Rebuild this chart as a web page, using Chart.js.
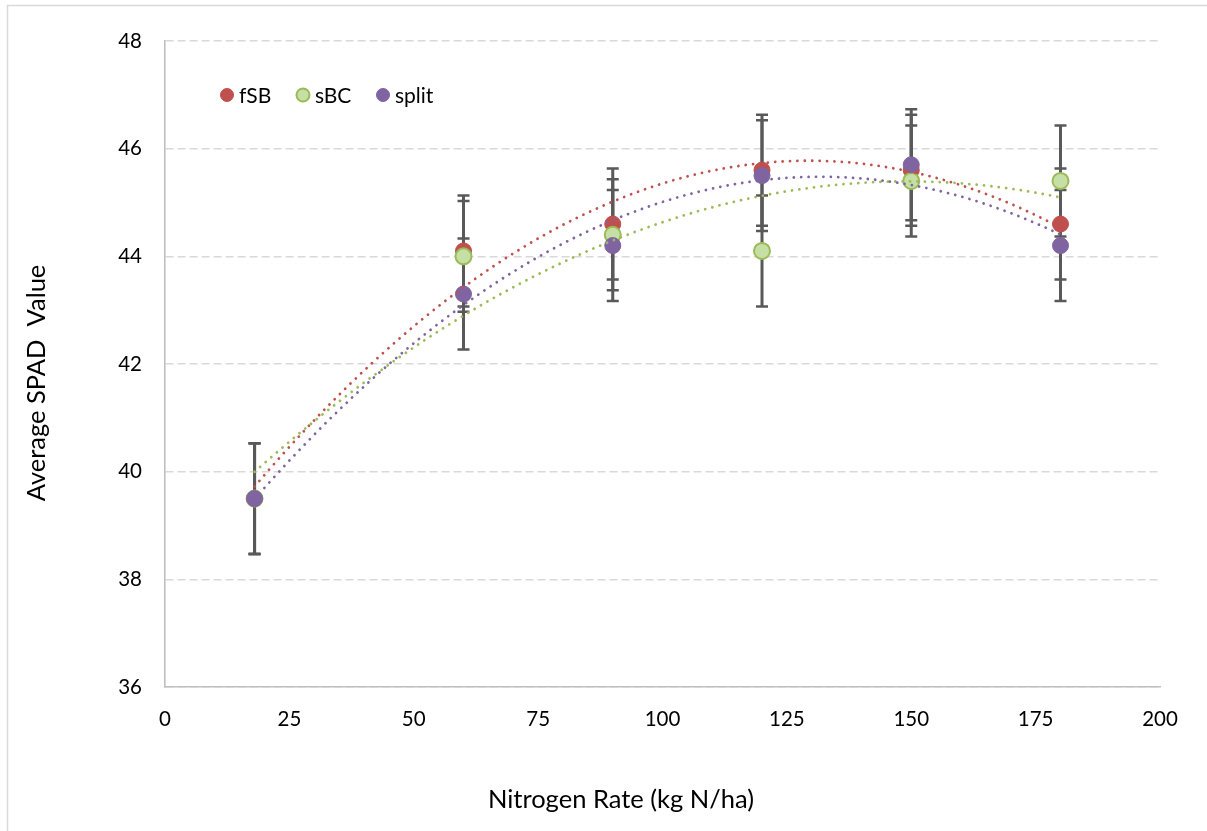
<!DOCTYPE html>
<html>
<head>
<meta charset="utf-8">
<script src="https://cdn.jsdelivr.net/npm/chart.js@4/dist/chart.umd.min.js"></script>
<style>
  html, body { margin: 0; padding: 0; background: #ffffff; }
  #wrap { width: 1207px; height: 831px; position: relative; }
</style>
</head>
<body>
<div id="wrap"><canvas id="c" width="1207" height="831"></canvas></div>
<script>
// ---- data ----
const nitrogenRates = [18, 60, 90, 120, 150, 180];
const fSBValues   = [39.5, 44.1, 44.6, 45.6, 45.6, 44.6];
const sBCValues   = [39.5, 44.0, 44.4, 44.1, 45.4, 45.4];
const splitValues = [39.5, 43.3, 44.2, 45.5, 45.7, 44.2];
const fSBErrors   = [1.03, 1.03, 1.03, 1.03, 1.03, 1.03];
const sBCErrors   = [1.03, 1.03, 1.03, 1.03, 1.03, 1.03];
const splitErrors = [1.03, 1.03, 1.03, 1.03, 1.03, 1.03];
const seriesNames = ['fSB', 'sBC', 'split'];
const xTicks = [0, 25, 50, 75, 100, 125, 150, 175, 200];
const yTicks = [36, 38, 40, 42, 44, 46, 48];
const xTitle = 'Nitrogen Rate (kg N/ha)';
const yTitle = 'Average SPAD  Value';

// ---- 2nd-order polynomial trendline (least squares, like the spreadsheet trendline) ----
function polyfit2(xs, ys) {
  let n = xs.length, sx = 0, sx2 = 0, sx3 = 0, sx4 = 0, sy = 0, sxy = 0, sx2y = 0;
  for (let i = 0; i < n; i++) {
    const x = xs[i], y = ys[i];
    sx += x; sx2 += x * x; sx3 += x * x * x; sx4 += x * x * x * x;
    sy += y; sxy += x * y; sx2y += x * x * y;
  }
  const A = [[n, sx, sx2, sy], [sx, sx2, sx3, sxy], [sx2, sx3, sx4, sx2y]];
  for (let i = 0; i < 3; i++) {
    let p = i;
    for (let r = i + 1; r < 3; r++) if (Math.abs(A[r][i]) > Math.abs(A[p][i])) p = r;
    [A[i], A[p]] = [A[p], A[i]];
    for (let r = 0; r < 3; r++) {
      if (r === i) continue;
      const f = A[r][i] / A[i][i];
      for (let c = i; c < 4; c++) A[r][c] -= f * A[i][c];
    }
  }
  return [A[0][3] / A[0][0], A[1][3] / A[1][1], A[2][3] / A[2][2]];
}
function trendPoints(xs, ys) {
  const [a, b, c] = polyfit2(xs, ys);
  const pts = [];
  const x0 = Math.min(...xs), x1 = Math.max(...xs);
  for (let x = x0; x <= x1 + 1e-9; x += 1) pts.push({ x: x, y: a + b * x + c * x * x });
  return pts;
}
const toPoints = (ys) => nitrogenRates.map((x, i) => ({ x: x, y: ys[i] }));

const colors = {
  fSB:   { line: '#C0504D', fill: '#C0504D', border: '#C0504D' },
  sBC:   { line: '#9BBB59', fill: '#C6DFA4', border: '#9BBB59' },
  split: { line: '#8064A2', fill: '#8064A2', border: '#8064A2' }
};
const FONT = 'Lato, "Open Sans", "DejaVu Sans", sans-serif';

function markerSet(name, ys, errs, order) {
  const c = colors[name];
  return {
    type: 'scatter', label: name, data: toPoints(ys), errors: errs, isMarker: true,
    backgroundColor: c.fill, borderColor: c.border, borderWidth: name === 'sBC' ? 2 : 1,
    pointRadius: 8, pointHoverRadius: 8, order: order
  };
}
function trendSet(name, ys, order) {
  const c = colors[name];
  return {
    type: 'line', label: name + ' trend', data: trendPoints(nitrogenRates, ys),
    borderColor: c.line, borderWidth: 2.8, borderDash: [0.01, 7.4], borderCapStyle: 'round',
    pointRadius: 0, fill: false, tension: 0, order: order
  };
}

const errorBarPlugin = {
  id: 'errorBars',
  beforeDatasetsDraw(chart) {
    const ctx = chart.ctx, xs = chart.scales.x, ys = chart.scales.y;
    ctx.save();
    ctx.strokeStyle = '#595959';
    ctx.lineCap = 'butt';
    chart.data.datasets.forEach((ds) => {
      if (!ds.isMarker) return;
      ds.data.forEach((p, i) => {
        const e = ds.errors[i];
        const px = xs.getPixelForValue(p.x);
        const top = ys.getPixelForValue(p.y + e);
        const bot = ys.getPixelForValue(p.y - e);
        ctx.lineWidth = 3;
        ctx.beginPath(); ctx.moveTo(px, top); ctx.lineTo(px, bot); ctx.stroke();
        ctx.lineWidth = 2.5;
        ctx.beginPath();
        ctx.moveTo(px - 6, top); ctx.lineTo(px + 6, top);
        ctx.moveTo(px - 6, bot); ctx.lineTo(px + 6, bot);
        ctx.stroke();
      });
    });
    ctx.restore();
  }
};

const frameLegendPlugin = {
  id: 'frameLegend',
  beforeDraw(chart) {
    const ctx = chart.ctx;
    ctx.save();
    ctx.fillStyle = '#ffffff';
    ctx.fillRect(0, 0, chart.width, chart.height);
    ctx.strokeStyle = '#D9D9D9';
    ctx.lineWidth = 1.5;
    ctx.strokeRect(7.5, 5.5, chart.width + 50, chart.height + 50);
    ctx.restore();
  },
  afterDraw(chart) {
    const ctx = chart.ctx;
    ctx.save();
    // axis titles
    ctx.fillStyle = '#000000';
    ctx.font = '25.5px ' + FONT;
    ctx.textAlign = 'center';
    ctx.textBaseline = 'middle';
    ctx.fillText(xTitle, 621, 800);
    ctx.save();
    ctx.translate(37, 383);
    ctx.rotate(-Math.PI / 2);
    ctx.fillText(yTitle, 0, 0);
    ctx.restore();
    // legend inside plot area
    const markerX = [227, 303, 383];
    const cy = 95;
    ctx.font = '21px ' + FONT;
    ctx.textBaseline = 'middle';
    ctx.textAlign = 'left';
    const markers = chart.data.datasets.filter(d => d.isMarker);
    seriesNames.forEach((name, i) => {
      const ds = markers.find(d => d.label === name);
      ctx.beginPath();
      ctx.arc(markerX[i], cy, 6.5, 0, Math.PI * 2);
      ctx.fillStyle = ds.backgroundColor;
      ctx.fill();
      ctx.lineWidth = ds.borderWidth;
      ctx.strokeStyle = ds.borderColor;
      ctx.stroke();
      ctx.fillStyle = '#000000';
      ctx.fillText(ds.label, markerX[i] + 12, cy + 1);
    });
    ctx.restore();
  }
};

new Chart(document.getElementById('c'), {
  type: 'scatter',
  data: {
    datasets: [
      trendSet('fSB', fSBValues, 3),
      trendSet('sBC', sBCValues, 2),
      trendSet('split', splitValues, 1),
      markerSet('fSB', fSBValues, fSBErrors, 6),
      markerSet('sBC', sBCValues, sBCErrors, 5),
      markerSet('split', splitValues, splitErrors, 4)
    ]
  },
  options: {
    responsive: false,
    devicePixelRatio: 1,
    animation: false,
    layout: { padding: { left: 18, top: 41, right: 47, bottom: 14 } },
    plugins: { legend: { display: false }, tooltip: { enabled: false } },
    scales: {
      x: {
        type: 'linear', min: 0, max: 200,
        afterBuildTicks(s) { s.ticks = xTicks.map(v => ({ value: v })); },
        afterFit(s) { s.height = 130; },
        grid: { display: false, drawTicks: false },
        border: { display: true, color: '#BFBFBF', width: 1.6 },
        ticks: { color: '#000000', font: { family: FONT, size: 20.5 }, padding: 20, maxRotation: 0 },
        title: { display: false }
      },
      y: {
        type: 'linear', min: 36, max: 48,
        afterBuildTicks(s) { s.ticks = yTicks.map(v => ({ value: v })); },
        afterFit(s) { s.width = 147; },
        grid: { color: '#D9D9D9', lineWidth: 1.6, drawTicks: false },
        border: { display: true, color: '#BFBFBF', width: 1.6, dash: [8, 4] },
        ticks: { color: '#000000', font: { family: FONT, size: 20.5 }, padding: 23 },
        title: { display: false }
      }
    }
  },
  plugins: [errorBarPlugin, frameLegendPlugin]
});
</script>
</body>
</html>
